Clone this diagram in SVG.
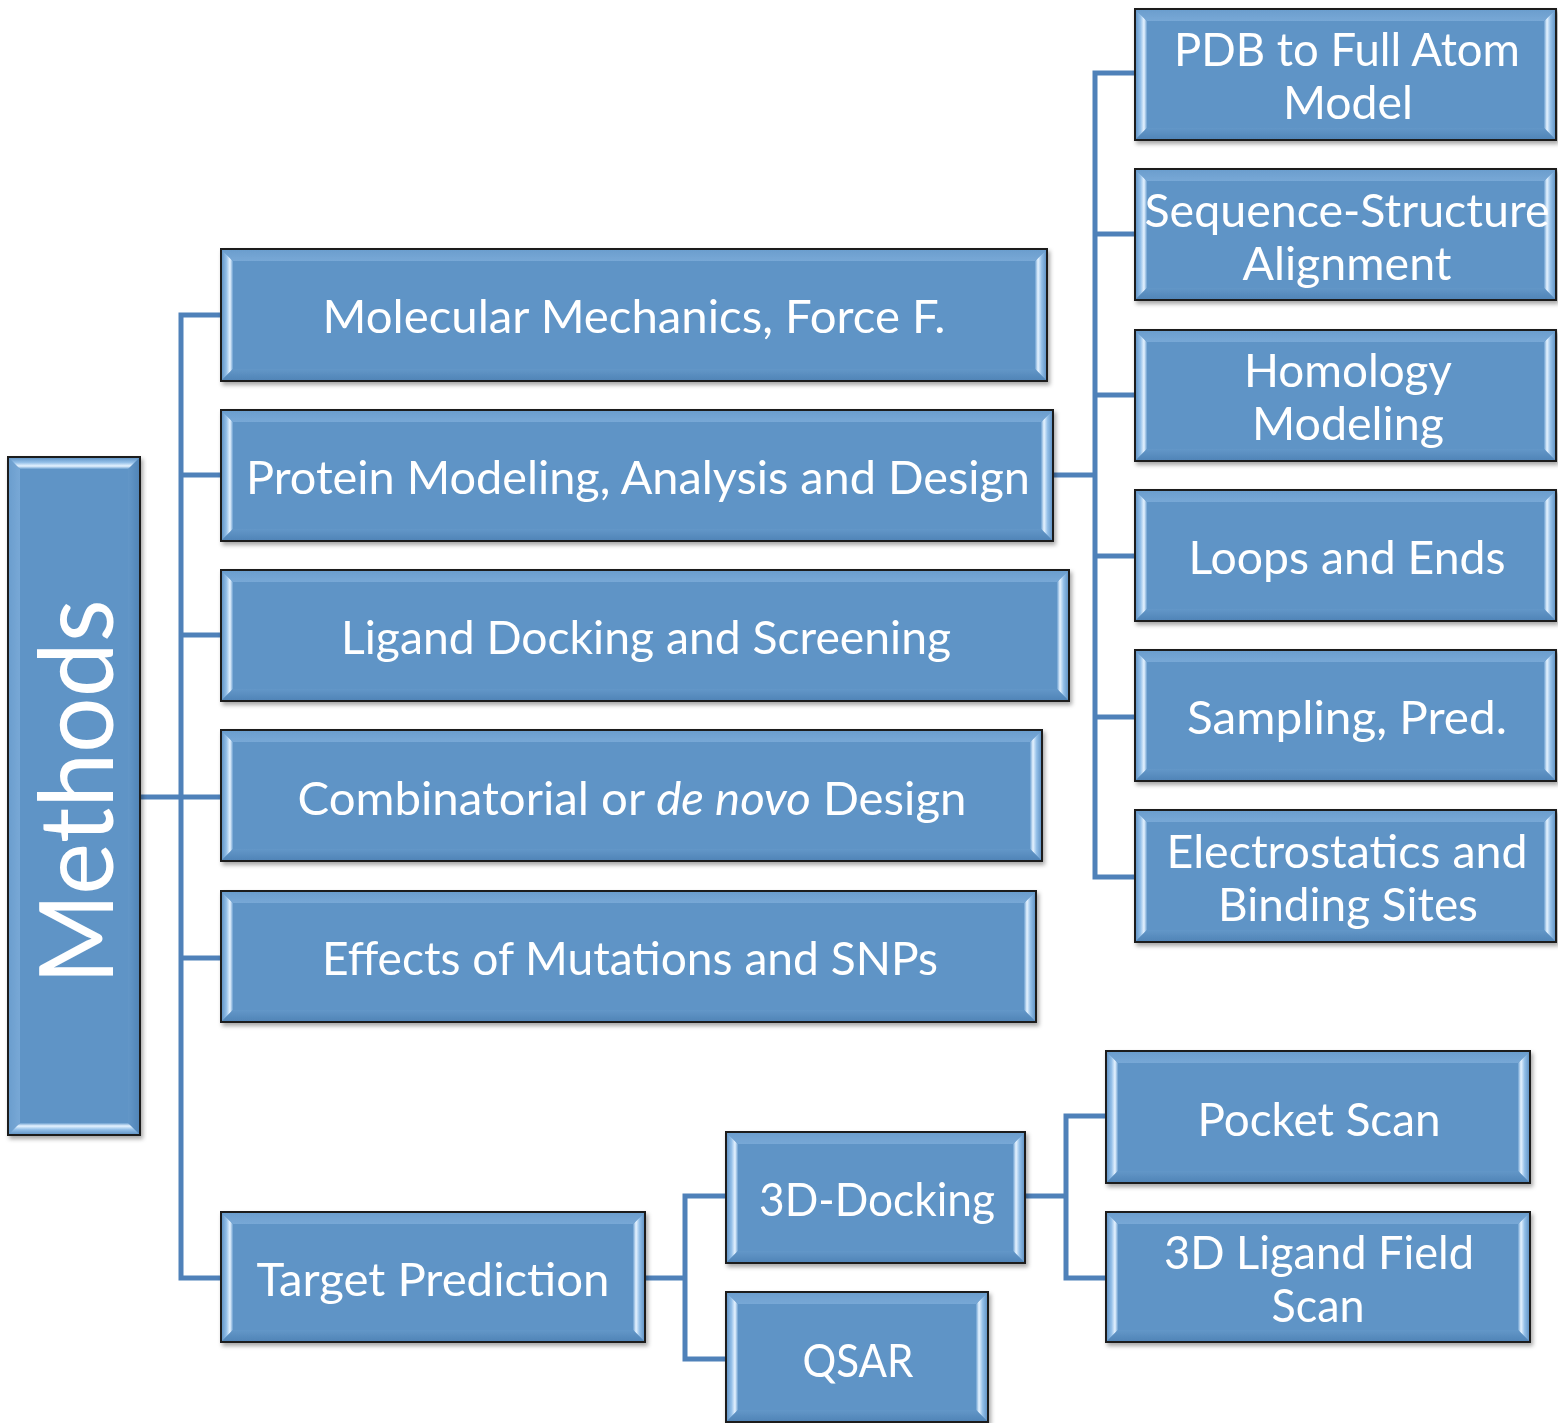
<svg xmlns="http://www.w3.org/2000/svg" width="1558" height="1423" viewBox="0 0 1558 1423">
<style>
.face{fill:#5f94c6}
.edge{fill:none;stroke:#1c1c1c;stroke-width:2}
.bl{fill:url(#gL)}
.br{fill:url(#gR)}
.bt{fill:url(#gT)}
.bb{fill:url(#gB)}
.vt{fill:url(#gVT)}
.vb{fill:url(#gVB)}
.vs{fill:url(#gVS)}
.vs2{fill:url(#gVS2)}
.lbl{font-family:Lato,"Open Sans","Liberation Sans",sans-serif;font-size:46px;fill:#ffffff;text-anchor:middle}
.conn{fill:none;stroke:#4f81b9;stroke-width:5;stroke-linejoin:miter}
.node{filter:url(#sh)}
</style>
<defs>
<filter id="sh" x="-5%" y="-5%" width="110%" height="115%">
<feDropShadow dx="2" dy="3" stdDeviation="2" flood-color="#000" flood-opacity="0.35"/>
</filter>
<linearGradient id="gL" x1="0" y1="0" x2="1" y2="0">
<stop offset="0" stop-color="#5a8ec1"/>
<stop offset="0.45" stop-color="#93bfe8"/>
<stop offset="0.75" stop-color="#e6f3ff"/>
<stop offset="1" stop-color="#6b9fd0"/>
</linearGradient>
<linearGradient id="gR" x1="1" y1="0" x2="0" y2="0">
<stop offset="0" stop-color="#5a8ec1"/>
<stop offset="0.45" stop-color="#93bfe8"/>
<stop offset="0.75" stop-color="#e6f3ff"/>
<stop offset="1" stop-color="#6b9fd0"/>
</linearGradient>
<linearGradient id="gT" x1="0" y1="0" x2="0" y2="1">
<stop offset="0" stop-color="#6a9dcd"/>
<stop offset="1" stop-color="#78a8d6"/>
</linearGradient>
<linearGradient id="gB" x1="0" y1="1" x2="0" y2="0">
<stop offset="0" stop-color="#4f83b6"/>
<stop offset="1" stop-color="#6397c8"/>
</linearGradient>
<linearGradient id="gVT" x1="0" y1="0" x2="0" y2="1">
<stop offset="0" stop-color="#5a8ec1"/>
<stop offset="0.45" stop-color="#93bfe8"/>
<stop offset="0.75" stop-color="#e6f3ff"/>
<stop offset="1" stop-color="#6b9fd0"/>
</linearGradient>
<linearGradient id="gVB" x1="0" y1="1" x2="0" y2="0">
<stop offset="0" stop-color="#5a8ec1"/>
<stop offset="0.45" stop-color="#93bfe8"/>
<stop offset="0.75" stop-color="#e6f3ff"/>
<stop offset="1" stop-color="#6b9fd0"/>
</linearGradient>
<linearGradient id="gVS" x1="0" y1="0" x2="1" y2="0">
<stop offset="0" stop-color="#6a9dcd"/>
<stop offset="1" stop-color="#78a8d6"/>
</linearGradient>
<linearGradient id="gVS2" x1="1" y1="0" x2="0" y2="0">
<stop offset="0" stop-color="#4f83b6"/>
<stop offset="1" stop-color="#6397c8"/>
</linearGradient>
</defs>
<rect x="0" y="0" width="1558" height="1423" fill="#ffffff"/>

<g id="connectors">
<path class="conn" d="M140,797 H181 M221,315 H181 V1278 H221 M181,475 H221 M181,635 H221 M181,797 H221 M181,958 H221"/>
<path class="conn" d="M1053,475 H1095 M1135,73 H1095 V877 H1135 M1095,234 H1135 M1095,395 H1135 M1095,556 H1135 M1095,717 H1135"/>
<path class="conn" d="M645,1278 H685 M726,1196 H685 V1359 H726"/>
<path class="conn" d="M1025,1196 H1066 M1106,1116 H1066 V1278 H1106"/>
</g>

<g id="methods" class="node">
<rect class="face" x="8" y="457" width="132" height="678"/>
<polygon class="vs" points="8,457 20,469 20,1123 8,1135"/>
<polygon class="vs2" points="140,457 128,469 128,1123 140,1135"/>
<polygon class="vt" points="8,457 140,457 128,469 20,469"/>
<polygon class="vb" points="8,1135 140,1135 128,1123 20,1123"/>
<rect class="edge" x="8" y="457" width="132" height="678"/>
<text class="lbl" x="78" y="827" font-size="102" textLength="385" lengthAdjust="spacingAndGlyphs" transform="rotate(-90 78 792)" style="font-size:102px">Methods</text>
</g>

<g id="molecular" class="node">
<rect class="face" x="221" y="249" width="826" height="132"/>
<polygon class="bl" points="221,249 233,261 233,369 221,381"/>
<polygon class="br" points="1047,249 1035,261 1035,369 1047,381"/>
<polygon class="bt" points="221,249 1047,249 1035,261 233,261"/>
<polygon class="bb" points="221,381 1047,381 1035,369 233,369"/>
<rect class="edge" x="221" y="249" width="826" height="132"/>
<text class="lbl" x="634" y="333" textLength="623" lengthAdjust="spacingAndGlyphs">Molecular Mechanics, Force F.</text>
</g>

<g id="protein" class="node">
<rect class="face" x="221" y="410" width="832" height="131"/>
<polygon class="bl" points="221,410 233,422 233,529 221,541"/>
<polygon class="br" points="1053,410 1041,422 1041,529 1053,541"/>
<polygon class="bt" points="221,410 1053,410 1041,422 233,422"/>
<polygon class="bb" points="221,541 1053,541 1041,529 233,529"/>
<rect class="edge" x="221" y="410" width="832" height="131"/>
<text class="lbl" x="638" y="494" textLength="784" lengthAdjust="spacingAndGlyphs">Protein Modeling, Analysis and Design</text>
</g>

<g id="ligand" class="node">
<rect class="face" x="221" y="570" width="848" height="131"/>
<polygon class="bl" points="221,570 233,582 233,689 221,701"/>
<polygon class="br" points="1069,570 1057,582 1057,689 1069,701"/>
<polygon class="bt" points="221,570 1069,570 1057,582 233,582"/>
<polygon class="bb" points="221,701 1069,701 1057,689 233,689"/>
<rect class="edge" x="221" y="570" width="848" height="131"/>
<text class="lbl" x="646" y="654" textLength="610" lengthAdjust="spacingAndGlyphs">Ligand Docking and Screening</text>
</g>

<g id="combinatorial" class="node">
<rect class="face" x="221" y="730" width="821" height="131"/>
<polygon class="bl" points="221,730 233,742 233,849 221,861"/>
<polygon class="br" points="1042,730 1030,742 1030,849 1042,861"/>
<polygon class="bt" points="221,730 1042,730 1030,742 233,742"/>
<polygon class="bb" points="221,861 1042,861 1030,849 233,849"/>
<rect class="edge" x="221" y="730" width="821" height="131"/>
<text class="lbl" x="632" y="815" textLength="669" lengthAdjust="spacingAndGlyphs">Combinatorial or <tspan font-style="italic">de novo</tspan> Design</text>
</g>

<g id="effects" class="node">
<rect class="face" x="221" y="891" width="815" height="131"/>
<polygon class="bl" points="221,891 233,903 233,1010 221,1022"/>
<polygon class="br" points="1036,891 1024,903 1024,1010 1036,1022"/>
<polygon class="bt" points="221,891 1036,891 1024,903 233,903"/>
<polygon class="bb" points="221,1022 1036,1022 1024,1010 233,1010"/>
<rect class="edge" x="221" y="891" width="815" height="131"/>
<text class="lbl" x="630" y="975" textLength="616" lengthAdjust="spacingAndGlyphs">Effects of Mutations and SNPs</text>
</g>

<g id="target" class="node">
<rect class="face" x="221" y="1212" width="424" height="130"/>
<polygon class="bl" points="221,1212 233,1224 233,1330 221,1342"/>
<polygon class="br" points="645,1212 633,1224 633,1330 645,1342"/>
<polygon class="bt" points="221,1212 645,1212 633,1224 233,1224"/>
<polygon class="bb" points="221,1342 645,1342 633,1330 233,1330"/>
<rect class="edge" x="221" y="1212" width="424" height="130"/>
<text class="lbl" x="433" y="1296" textLength="353" lengthAdjust="spacingAndGlyphs">Target Prediction</text>
</g>

<g id="pdb" class="node">
<rect class="face" x="1135" y="9" width="421" height="131"/>
<polygon class="bl" points="1135,9 1147,21 1147,128 1135,140"/>
<polygon class="br" points="1556,9 1544,21 1544,128 1556,140"/>
<polygon class="bt" points="1135,9 1556,9 1544,21 1147,21"/>
<polygon class="bb" points="1135,140 1556,140 1544,128 1147,128"/>
<rect class="edge" x="1135" y="9" width="421" height="131"/>
<text class="lbl" x="1347" y="66" textLength="346" lengthAdjust="spacingAndGlyphs">PDB to Full Atom</text>
<text class="lbl" x="1348" y="119" textLength="130" lengthAdjust="spacingAndGlyphs">Model</text>
</g>

<g id="sequence" class="node">
<rect class="face" x="1135" y="169" width="421" height="131"/>
<polygon class="bl" points="1135,169 1147,181 1147,288 1135,300"/>
<polygon class="br" points="1556,169 1544,181 1544,288 1556,300"/>
<polygon class="bt" points="1135,169 1556,169 1544,181 1147,181"/>
<polygon class="bb" points="1135,300 1556,300 1544,288 1147,288"/>
<rect class="edge" x="1135" y="169" width="421" height="131"/>
<text class="lbl" x="1347" y="227" textLength="405" lengthAdjust="spacingAndGlyphs">Sequence-Structure</text>
<text class="lbl" x="1347" y="280" textLength="209" lengthAdjust="spacingAndGlyphs">Alignment</text>
</g>

<g id="homology" class="node">
<rect class="face" x="1135" y="330" width="421" height="131"/>
<polygon class="bl" points="1135,330 1147,342 1147,449 1135,461"/>
<polygon class="br" points="1556,330 1544,342 1544,449 1556,461"/>
<polygon class="bt" points="1135,330 1556,330 1544,342 1147,342"/>
<polygon class="bb" points="1135,461 1556,461 1544,449 1147,449"/>
<rect class="edge" x="1135" y="330" width="421" height="131"/>
<text class="lbl" x="1348" y="387" textLength="208" lengthAdjust="spacingAndGlyphs">Homology</text>
<text class="lbl" x="1348" y="440" textLength="192" lengthAdjust="spacingAndGlyphs">Modeling</text>
</g>

<g id="loops" class="node">
<rect class="face" x="1135" y="490" width="421" height="131"/>
<polygon class="bl" points="1135,490 1147,502 1147,609 1135,621"/>
<polygon class="br" points="1556,490 1544,502 1544,609 1556,621"/>
<polygon class="bt" points="1135,490 1556,490 1544,502 1147,502"/>
<polygon class="bb" points="1135,621 1556,621 1544,609 1147,609"/>
<rect class="edge" x="1135" y="490" width="421" height="131"/>
<text class="lbl" x="1347" y="574" textLength="317" lengthAdjust="spacingAndGlyphs">Loops and Ends</text>
</g>

<g id="sampling" class="node">
<rect class="face" x="1135" y="650" width="421" height="131"/>
<polygon class="bl" points="1135,650 1147,662 1147,769 1135,781"/>
<polygon class="br" points="1556,650 1544,662 1544,769 1556,781"/>
<polygon class="bt" points="1135,650 1556,650 1544,662 1147,662"/>
<polygon class="bb" points="1135,781 1556,781 1544,769 1147,769"/>
<rect class="edge" x="1135" y="650" width="421" height="131"/>
<text class="lbl" x="1347" y="734" textLength="320" lengthAdjust="spacingAndGlyphs">Sampling, Pred.</text>
</g>

<g id="electrostatics" class="node">
<rect class="face" x="1135" y="810" width="421" height="132"/>
<polygon class="bl" points="1135,810 1147,822 1147,930 1135,942"/>
<polygon class="br" points="1556,810 1544,822 1544,930 1556,942"/>
<polygon class="bt" points="1135,810 1556,810 1544,822 1147,822"/>
<polygon class="bb" points="1135,942 1556,942 1544,930 1147,930"/>
<rect class="edge" x="1135" y="810" width="421" height="132"/>
<text class="lbl" x="1347" y="868" textLength="361" lengthAdjust="spacingAndGlyphs">Electrostatics and</text>
<text class="lbl" x="1348" y="921" textLength="260" lengthAdjust="spacingAndGlyphs">Binding Sites</text>
</g>

<g id="docking3d" class="node">
<rect class="face" x="726" y="1132" width="299" height="131"/>
<polygon class="bl" points="726,1132 738,1144 738,1251 726,1263"/>
<polygon class="br" points="1025,1132 1013,1144 1013,1251 1025,1263"/>
<polygon class="bt" points="726,1132 1025,1132 1013,1144 738,1144"/>
<polygon class="bb" points="726,1263 1025,1263 1013,1251 738,1251"/>
<rect class="edge" x="726" y="1132" width="299" height="131"/>
<text class="lbl" x="877" y="1216" textLength="236" lengthAdjust="spacingAndGlyphs">3D-Docking</text>
</g>

<g id="qsar" class="node">
<rect class="face" x="726" y="1292" width="262" height="130"/>
<polygon class="bl" points="726,1292 738,1304 738,1410 726,1422"/>
<polygon class="br" points="988,1292 976,1304 976,1410 988,1422"/>
<polygon class="bt" points="726,1292 988,1292 976,1304 738,1304"/>
<polygon class="bb" points="726,1422 988,1422 976,1410 738,1410"/>
<rect class="edge" x="726" y="1292" width="262" height="130"/>
<text class="lbl" x="858" y="1377" textLength="111" lengthAdjust="spacingAndGlyphs">QSAR</text>
</g>

<g id="pocket" class="node">
<rect class="face" x="1106" y="1051" width="424" height="132"/>
<polygon class="bl" points="1106,1051 1118,1063 1118,1171 1106,1183"/>
<polygon class="br" points="1530,1051 1518,1063 1518,1171 1530,1183"/>
<polygon class="bt" points="1106,1051 1530,1051 1518,1063 1118,1063"/>
<polygon class="bb" points="1106,1183 1530,1183 1518,1171 1118,1171"/>
<rect class="edge" x="1106" y="1051" width="424" height="132"/>
<text class="lbl" x="1319" y="1136" textLength="243" lengthAdjust="spacingAndGlyphs">Pocket Scan</text>
</g>

<g id="ligandfield" class="node">
<rect class="face" x="1106" y="1212" width="424" height="130"/>
<polygon class="bl" points="1106,1212 1118,1224 1118,1330 1106,1342"/>
<polygon class="br" points="1530,1212 1518,1224 1518,1330 1530,1342"/>
<polygon class="bt" points="1106,1212 1530,1212 1518,1224 1118,1224"/>
<polygon class="bb" points="1106,1342 1530,1342 1518,1330 1118,1330"/>
<rect class="edge" x="1106" y="1212" width="424" height="130"/>
<text class="lbl" x="1319" y="1269" textLength="310" lengthAdjust="spacingAndGlyphs">3D Ligand Field</text>
<text class="lbl" x="1318" y="1322" textLength="93" lengthAdjust="spacingAndGlyphs">Scan</text>
</g>
</svg>
